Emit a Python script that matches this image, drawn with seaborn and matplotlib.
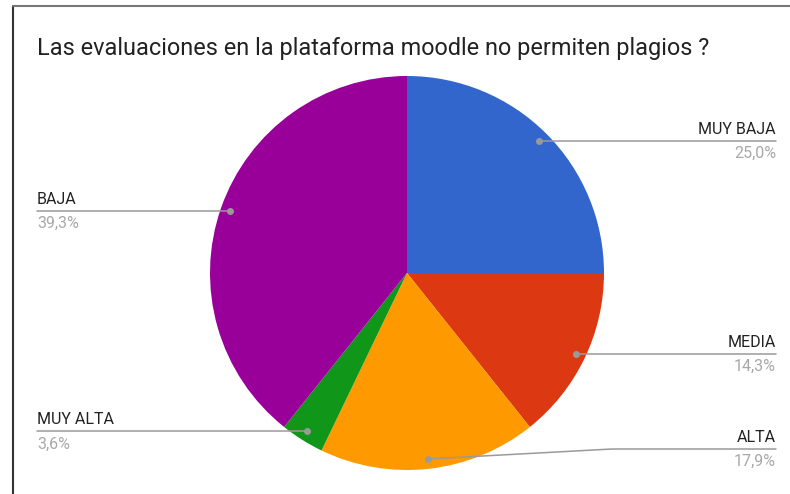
import numpy as np
import matplotlib
matplotlib.use("Agg")
import matplotlib.pyplot as plt
import seaborn as sns
from matplotlib.lines import Line2D

# ---- data ----
categories = ["MUY BAJA", "MEDIA", "ALTA", "MUY ALTA", "BAJA"]
counts = [7, 4, 5, 1, 11]
pct_labels = ["25,0%", "14,3%", "17,9%", "3,6%", "39,3%"]
colors = ["#3366CC", "#DC3912", "#FF9900", "#109618", "#990099"]
title = "Las evaluaciones en la plataforma moodle no permiten plagios ?"

sns.set_theme(style="white")
plt.rcParams["font.family"] = ["Roboto", "DejaVu Sans"]

W, H = 790, 494
fig = plt.figure(figsize=(W / 100, H / 100), dpi=100)
ax = fig.add_axes([0, 0, 1, 1])

cx, cy_px, r = 407, 273, 197
cy = H - cy_px

ax.pie(counts, colors=colors, startangle=90, counterclock=False,
       center=(cx, cy), radius=r, frame=True,
       wedgeprops=dict(linewidth=0))
ax.set_xlim(0, W)
ax.set_ylim(0, H)
ax.axis("off")

# leader lines & labels
total = float(sum(counts))
cum = np.cumsum([0] + counts[:-1]) / total
mids = (cum + np.array(counts) / total / 2) * 2 * np.pi
line_y_px = {"ALTA": 449}
line_gray = "#9a9a9a"
for cat, pct, ang in zip(categories, pct_labels, mids):
    dx = np.sin(ang) * r * 0.95
    dy = np.cos(ang) * r * 0.95
    px, py = cx + dx, cy + dy
    right = dx > 0
    ly = H - line_y_px[cat] if cat in line_y_px else py
    if right:
        xend = 776
        if cat in line_y_px:
            xs, ys = [px, 612, xend], [py, ly, ly]
        else:
            xs, ys = [px, xend], [ly, ly]
        ha = "right"
    else:
        xend = 37
        xs, ys = [xend, px], [ly, ly]
        ha = "left"
    ax.add_line(Line2D(xs, ys, color=line_gray, lw=1.1, zorder=5))
    ax.plot([px], [py], "o", color=line_gray, ms=4, zorder=6)
    ax.text(xend, ly + 4, cat, ha=ha, va="bottom", fontsize=11.5, color="#222222")
    ax.text(xend, ly - 5, pct, ha=ha, va="top", fontsize=11.5, color="#a8a8a8")

ax.text(37, H - 48, title, ha="left", va="center", fontsize=16.9, color="#222222")

# frame lines
fig.add_artist(Line2D([12.5 / W, 12.5 / W], [0, (H - 6.5) / H], transform=fig.transFigure,
                      color="#333333", lw=1.5))
fig.add_artist(Line2D([12.5 / W, 1], [(H - 6.5) / H, (H - 6.5) / H], transform=fig.transFigure,
                      color="#777777", lw=1.5))

fig.savefig("out.png", dpi=100, facecolor="white")
